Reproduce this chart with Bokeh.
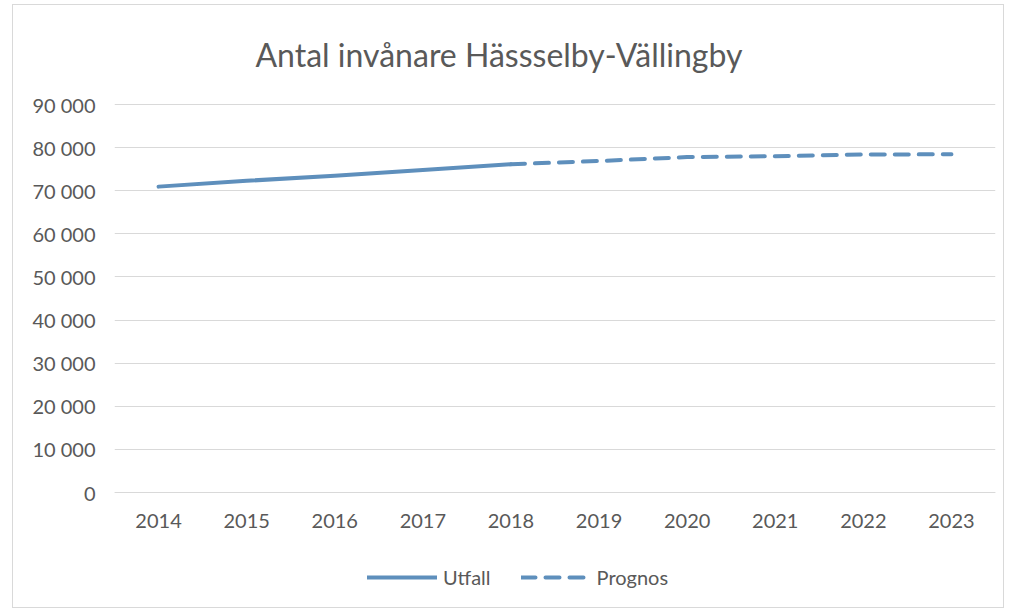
from bokeh.plotting import figure
from bokeh.models import (Range1d, FactorRange, FixedTicker, CustomJSTickFormatter,
                          Legend, LegendItem)
from bokeh.embed import file_html
from bokeh.resources import INLINE

# ---- data ----
years = ["2014", "2015", "2016", "2017", "2018", "2019", "2020", "2021", "2022", "2023"]
utfall_years = ["2014", "2015", "2016", "2017", "2018"]
utfall_values = [70950, 72300, 73500, 74800, 76150]
prognos_years = ["2018", "2019", "2020", "2021", "2022", "2023"]
prognos_values = [76150, 76900, 77800, 78000, 78400, 78450]
y_ticks = [0, 10000, 20000, 30000, 40000, 50000, 60000, 70000, 80000, 90000]
title_text = "Antal invånare Hässselby-Vällingby"

LINE_COLOR = "#5E8FBC"
TEXT_COLOR = "#595959"
GRID_COLOR = "#D9D9D9"
FONT = "Lato"

# layout (pixels inside the figure)
W, H = 992, 604
frame_left, frame_right = 101, 982
top_line_px, zero_px, frame_bottom = 99, 487, 595
frame_top = top_line_px - 1
y_top = y_ticks[-1]
units_per_px = y_top / (zero_px - top_line_px)
y_start = -units_per_px * (frame_bottom - zero_px)
y_end = y_top + units_per_px * (top_line_px - frame_top)

p = figure(width=W, height=H, output_backend="svg", toolbar_location=None,
           x_range=FactorRange(*years, range_padding=0),
           y_range=Range1d(y_start, y_end),
           min_border_left=frame_left, min_border_right=W - frame_right,
           min_border_top=frame_top, min_border_bottom=H - frame_bottom)
p.styles = {"border": "1px solid #D9D9D9", "margin-left": "12px", "margin-top": "4px"}

p.outline_line_color = None
p.background_fill_color = "white"
p.border_fill_color = "white"

# title
p.title.text = title_text
p.title.text_font = FONT
p.title.text_font_size = "32px"
p.title.text_font_style = "normal"
p.title.text_color = TEXT_COLOR
p.title.align = "left"
p.title.vertical_align = "top"
p.title.offset = 141
p.title.standoff = 56

# axes
p.yaxis.ticker = FixedTicker(ticks=y_ticks)
p.yaxis.formatter = CustomJSTickFormatter(
    code='return tick.toFixed(0).replace(/\\B(?=(\\d{3})+(?!\\d))/g, " ");')
p.yaxis.axis_line_color = None
p.yaxis.major_tick_line_color = None
p.yaxis.minor_tick_line_color = None
p.yaxis.major_label_standoff = 13
p.yaxis.major_label_text_font = FONT
p.yaxis.major_label_text_font_size = "20px"
p.yaxis.major_label_text_color = TEXT_COLOR

p.xaxis.fixed_location = 0
p.xaxis.axis_line_color = GRID_COLOR
p.xaxis.axis_line_width = 1
p.xaxis.major_tick_line_color = None
p.xaxis.minor_tick_line_color = None
p.xaxis.major_label_standoff = 15
p.xaxis.major_label_text_font = FONT
p.xaxis.major_label_text_font_size = "20px"
p.xaxis.major_label_text_color = TEXT_COLOR

p.xgrid.grid_line_color = None
p.ygrid.grid_line_color = GRID_COLOR
p.ygrid.grid_line_width = 1

# lines
r1 = p.line(utfall_years, utfall_values, line_color=LINE_COLOR, line_width=4,
            line_cap="round", line_join="round")
r2 = p.line(prognos_years, prognos_values, line_color=LINE_COLOR, line_width=4,
            line_cap="round", line_dash="14 10")

legend = Legend(items=[LegendItem(label="Utfall", renderers=[r1]),
                       LegendItem(label="Prognos", renderers=[r2])],
                orientation="horizontal", location=(253, 11),
                glyph_width=70, glyph_height=22, label_standoff=6, spacing=30,
                padding=0, margin=0, border_line_color=None,
                background_fill_alpha=0,
                label_text_font=FONT, label_text_font_size="20px",
                label_text_color=TEXT_COLOR)
p.add_layout(legend, "center")

open("out.html", "w").write(file_html(p, INLINE))
